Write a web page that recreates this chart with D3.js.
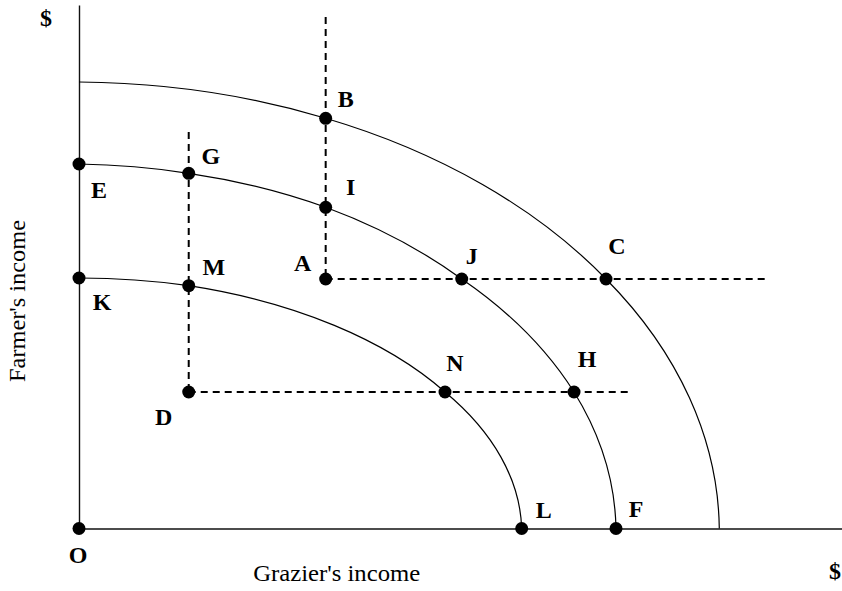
<!DOCTYPE html>
<html>
<head>
<meta charset="utf-8">
<script src="https://cdn.jsdelivr.net/npm/d3@7"></script>
<style>
  body { margin: 0; background: #fff; }
  text { font-family: "Liberation Serif", "Times New Roman", serif; }
</style>
</head>
<body>
<div id="chart"></div>
<script>
// labelled points (income units, 0-100 on each axis)
const pointNames = ["O", "E", "K", "B", "I", "A", "G", "M", "D", "J", "C", "N", "H", "L", "F"];
const pointX = [0, 0, 0, 32.33, 32.33, 32.33, 14.38, 14.38, 14.38, 50.16, 69.07, 47.97, 64.88, 58.02, 70.38];
const pointY = [0, 69.63, 47.85, 78.36, 61.36, 47.66, 67.85, 46.38, 26.07, 47.66, 47.66, 26.07, 26.07, 0, 0];

// the three frontiers: axis intercepts and the points they pass through
const outerX = [0, 32.33, 69.07, 83.92];
const outerY = [85.29, 78.36, 47.66, 0];
const middleX = [0, 14.38, 32.33, 50.16, 64.88, 70.38];
const middleY = [69.63, 67.85, 61.36, 47.66, 26.07, 0];
const innerX = [0, 14.38, 47.97, 58.02];
const innerY = [47.85, 46.38, 26.07, 0];

// dashed guides: from (x1,y1) to (x2,y2)
const guideX1 = [32.33, 32.33, 14.38, 14.38];
const guideY1 = [97.71, 47.66, 75.74, 26.07];
const guideX2 = [32.33, 90.04, 14.38, 72.21];
const guideY2 = [47.66, 47.66, 26.07, 26.07];

const width = 842, height = 591;

const x = d3.scaleLinear().domain([0, 100]).range([79, 842]);
const y = d3.scaleLinear().domain([0, 100]).range([528.5, 5]);

const svg = d3.select("#chart").append("svg")
  .attr("width", width)
  .attr("height", height);

// axes, no ticks
svg.append("g")
  .attr("transform", `translate(0,${y(0)})`)
  .call(d3.axisBottom(x).tickValues([]).tickSizeOuter(0))
  .select(".domain").attr("stroke", "#111").attr("stroke-width", 1.4);
svg.append("g")
  .attr("transform", `translate(${x(0)},0)`)
  .call(d3.axisLeft(y).tickValues([]).tickSizeOuter(0))
  .select(".domain").attr("stroke", "#111").attr("stroke-width", 1.4);

// guides
svg.selectAll("line.guide")
  .data(d3.range(guideX1.length))
  .join("line")
  .attr("class", "guide")
  .attr("x1", i => x(guideX1[i]))
  .attr("y1", i => y(guideY1[i]))
  .attr("x2", i => x(guideX2[i]))
  .attr("y2", i => y(guideY2[i]))
  .attr("stroke", "#000")
  .attr("stroke-width", 2)
  .attr("stroke-dasharray", "7,5");

// frontiers: elliptical arcs (radii = the intercepts) joining the points
function frontier(xs, ys) {
  const rx = x(d3.max(xs)) - x(0);
  const ry = y(0) - y(d3.max(ys));
  let d = `M${x(xs[0])},${y(ys[0])}`;
  for (let i = 1; i < xs.length; i++) {
    d += `A${rx},${ry} 0 0 1 ${x(xs[i])},${y(ys[i])}`;
  }
  return d;
}

svg.selectAll("path.curve")
  .data([[outerX, outerY], [middleX, middleY], [innerX, innerY]])
  .join("path")
  .attr("class", "curve")
  .attr("d", d => frontier(d[0], d[1]))
  .attr("fill", "none")
  .attr("stroke", "#000")
  .attr("stroke-width", 1.2);

// dots
svg.selectAll("circle")
  .data(pointNames)
  .join("circle")
  .attr("cx", (d, i) => x(pointX[i]))
  .attr("cy", (d, i) => y(pointY[i]))
  .attr("r", 6.5)
  .attr("fill", "#000");

// label offsets from each dot (px, centre of the letter)
const labelOffset = {
  O: [-1, 26], E: [20, 26], K: [23, 24], B: [20, -19], I: [25, -20],
  A: [-23, -16], G: [22, -17], M: [25, -19], D: [-25, 25], J: [10, -23],
  C: [11, -33], N: [10, -29], H: [13, -33], L: [22, -19], F: [20, -20]
};

svg.selectAll("text.pt")
  .data(pointNames)
  .join("text")
  .attr("class", "pt")
  .attr("x", (d, i) => x(pointX[i]) + labelOffset[d][0])
  .attr("y", (d, i) => y(pointY[i]) + labelOffset[d][1] + 8)
  .attr("text-anchor", "middle")
  .style("font-size", "24px")
  .style("font-weight", "bold")
  .text(d => d);

// currency marks
svg.append("text")
  .attr("x", 46).attr("y", 26)
  .attr("text-anchor", "middle")
  .style("font-size", "24px").style("font-weight", "bold")
  .text("$");
svg.append("text")
  .attr("x", 835).attr("y", 579)
  .attr("text-anchor", "middle")
  .style("font-size", "24px").style("font-weight", "bold")
  .text("$");

// axis titles
svg.append("text")
  .attr("x", 336.7).attr("y", 581)
  .attr("text-anchor", "middle")
  .attr("textLength", 167)
  .attr("lengthAdjust", "spacingAndGlyphs")
  .style("font-size", "24px")
  .text("Grazier's income");
svg.append("text")
  .attr("transform", "translate(25,301) rotate(-90)")
  .attr("text-anchor", "middle")
  .attr("textLength", 162)
  .attr("lengthAdjust", "spacingAndGlyphs")
  .style("font-size", "24px")
  .text("Farmer's income");
</script>
</body>
</html>
